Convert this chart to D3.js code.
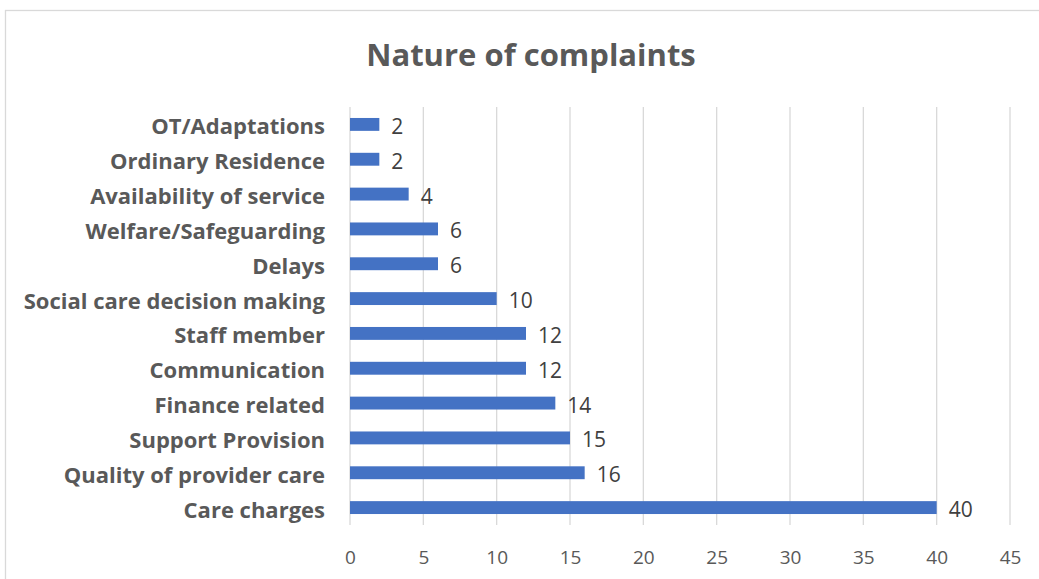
<!DOCTYPE html>
<html lang="en">
<head>
    <meta charset="UTF-8">
    <title>Nature of complaints</title>
    <script src="https://cdn.jsdelivr.net/npm/d3@7/dist/d3.min.js"></script>
    <style>
        body{ margin:0; background:#fff; }
        text{ font-family: "Open Sans", "Noto Sans", sans-serif; }
        .cat text{ font-weight: bold; font-size: 22px; fill:#595959; }
        .xax text{ font-size: 19px; fill:#595959; }
        .grid line{ stroke:#d9d9d9; stroke-width:1.3px; }
    </style>
</head>
<body>
<svg id="main" width="1039" height="579"></svg>
<script>
    // data, top to bottom as in the chart
    let categories = ['OT/Adaptations', 'Ordinary Residence', 'Availability of service',
        'Welfare/Safeguarding', 'Delays', 'Social care decision making', 'Staff member',
        'Communication', 'Finance related', 'Support Provision', 'Quality of provider care',
        'Care charges'];
    let counts = [2, 2, 4, 6, 6, 10, 12, 12, 14, 15, 16, 40];
    let xTicks = [0, 5, 10, 15, 20, 25, 30, 35, 40, 45];

    let svg = d3.select('svg#main');
    let plot = {left: 350, right: 1010, top: 107, bottom: 525};

    // chart frame
    svg.append('rect').attr('x', 5.5).attr('y', 10.5)
        .attr('width', 1050).attr('height', 600)
        .attr('fill', 'none').attr('stroke', '#d9d9d9').attr('stroke-width', 1.3);

    svg.append('text').attr('x', 531).attr('y', 66)
        .attr('text-anchor', 'middle')
        .style('font-size', '31px').style('font-weight', 'bold').style('fill', '#595959')
        .text('Nature of complaints');

    let xScale = d3.scaleLinear().domain([0, 45]).range([plot.left, plot.right]);
    let yScale = d3.scaleBand().domain(categories).range([plot.top, plot.bottom]).paddingInner(0.63).paddingOuter(0.315);

    // vertical gridlines
    svg.append('g').attr('class', 'grid')
        .selectAll('line').data(xTicks).join('line')
        .attr('x1', d => xScale(d)).attr('x2', d => xScale(d))
        .attr('y1', plot.top).attr('y2', plot.bottom);

    // bars
    svg.append('g').selectAll('rect').data(categories).join('rect')
        .attr('x', xScale(0))
        .attr('y', d => yScale(d))
        .attr('width', (d, i) => xScale(counts[i]) - xScale(0))
        .attr('height', yScale.bandwidth())
        .attr('fill', '#4472c4');

    // value labels
    svg.append('g').selectAll('text').data(categories).join('text')
        .attr('x', (d, i) => xScale(counts[i]) + 12)
        .attr('y', d => yScale(d) + yScale.bandwidth() / 2 + 2)
        .attr('dy', '0.36em')
        .style('font-size', '21px').style('fill', '#404040')
        .text((d, i) => counts[i]);

    // category axis
    let yAxis = svg.append('g').attr('class', 'cat')
        .attr('transform', 'translate(' + (plot.left - 4) + ',3)')
        .call(d3.axisLeft(yScale).tickSize(0).tickPadding(21));
    yAxis.select('.domain').remove();

    // value axis
    let xAxis = svg.append('g').attr('class', 'xax')
        .attr('transform', 'translate(0,' + plot.bottom + ')')
        .call(d3.axisBottom(xScale).tickValues(xTicks).tickSize(0).tickPadding(26));
    xAxis.select('.domain').remove();
    xAxis.selectAll('text').attr('dy', '0.71em');
</script>
</body>
</html>
